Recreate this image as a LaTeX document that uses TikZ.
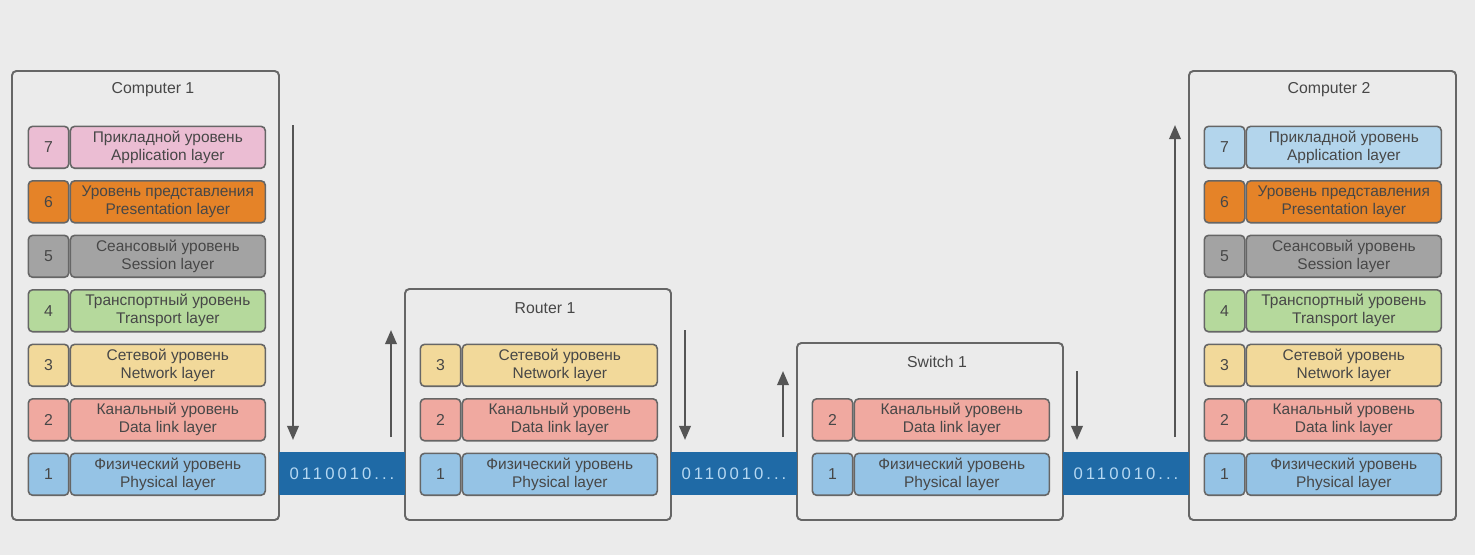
\documentclass[tikz,border=0pt]{standalone}
\usepackage{fontspec}
\setmainfont{Liberation Sans}
\usepackage{tikz}
\usetikzlibrary{arrows.meta}
\definecolor{bgray}{HTML}{EBEBEB}
\definecolor{framec}{HTML}{666666}
\definecolor{arrowc}{HTML}{555555}
\definecolor{txtc}{HTML}{474747}
\definecolor{lpink}{HTML}{EBBDD3}
\definecolor{lorange}{HTML}{E58328}
\definecolor{lgray}{HTML}{A3A3A3}
\definecolor{lgreen}{HTML}{B5D99C}
\definecolor{lyellow}{HTML}{F2D99A}
\definecolor{lred}{HTML}{F0A9A0}
\definecolor{lblue}{HTML}{95C3E5}
\definecolor{lsky}{HTML}{B3D5EC}
\definecolor{bandc}{HTML}{1F6AA6}
\definecolor{bitc}{HTML}{B5D8F2}
\tikzset{
  frame/.style={draw=framec, line width=1.1pt, rounded corners=2.5pt},
  title/.style={text=txtc, font=\fontsize{9}{10}\selectfont},
  numbox/.style={draw=framec, line width=0.9pt, rounded corners=2.5pt, text=txtc,
    minimum width=0.81cm, minimum height=0.84cm, inner sep=0pt, anchor=north west,
    font=\fontsize{9}{10}\selectfont},
  namebox/.style={draw=framec, line width=0.9pt, rounded corners=2.5pt, text=txtc,
    minimum width=3.9cm, minimum height=0.84cm, inner sep=0pt, anchor=north west,
    align=center, font=\fontsize{8.8}{10.2}\selectfont},
  bits/.style={fill=bandc, text=bitc, minimum width=2.52cm, minimum height=0.86cm,
    inner sep=0pt, font=\fontsize{9.5}{10}\selectfont\addfontfeature{LetterSpace=18}},
  flow/.style={draw=arrowc, line width=1.3pt, -{Triangle[length=8pt,width=6.5pt]}}
}
% name, x, y, number, russian, english, colour
\newcommand{\osilayer}[7]{%
  \node[numbox, fill=#7] (#1n) at (#2,#3) {#4};
  \node[namebox, fill=#7] (#1t) at (#1n.north east) {#5\\#6};
}
\begin{document}
\begin{tikzpicture}[x=0.02cm, y=-0.02cm]
\fill[bgray] (0,0) rectangle (1475,555);

% Computer 1
\draw[frame] (12,71) rectangle (279,520);
\node[title] (comp1) at (153,90) {Computer 1};
\osilayer{ca7}{27.5}{125.5}{7}{Прикладной уровень}{Application layer}{lpink}
\osilayer{ca6}{27.5}{180}{6}{Уровень представления}{Presentation layer}{lorange}
\osilayer{ca5}{27.5}{234.5}{5}{Сеансовый уровень}{Session layer}{lgray}
\osilayer{ca4}{27.5}{289}{4}{Транспортный уровень}{Transport layer}{lgreen}
\osilayer{ca3}{27.5}{343.5}{3}{Сетевой уровень}{Network layer}{lyellow}
\osilayer{ca2}{27.5}{398}{2}{Канальный уровень}{Data link layer}{lred}
\osilayer{ca1}{27.5}{452.5}{1}{Физический уровень}{Physical layer}{lblue}

% Router 1
\draw[frame] (405,289) rectangle (671,520);
\node[title] (router1) at (545,308) {Router 1};
\osilayer{ra3}{419.5}{343.5}{3}{Сетевой уровень}{Network layer}{lyellow}
\osilayer{ra2}{419.5}{398}{2}{Канальный уровень}{Data link layer}{lred}
\osilayer{ra1}{419.5}{452.5}{1}{Физический уровень}{Physical layer}{lblue}

% Switch 1
\draw[frame] (797,343) rectangle (1063,520);
\node[title] (switch1) at (937,362) {Switch 1};
\osilayer{sa2}{811.5}{398}{2}{Канальный уровень}{Data link layer}{lred}
\osilayer{sa1}{811.5}{452.5}{1}{Физический уровень}{Physical layer}{lblue}

% Computer 2
\draw[frame] (1189,71) rectangle (1456,520);
\node[title] (comp2) at (1329,90) {Computer 2};
\osilayer{cb7}{1203.5}{125.5}{7}{Прикладной уровень}{Application layer}{lsky}
\osilayer{cb6}{1203.5}{180}{6}{Уровень представления}{Presentation layer}{lorange}
\osilayer{cb5}{1203.5}{234.5}{5}{Сеансовый уровень}{Session layer}{lgray}
\osilayer{cb4}{1203.5}{289}{4}{Транспортный уровень}{Transport layer}{lgreen}
\osilayer{cb3}{1203.5}{343.5}{3}{Сетевой уровень}{Network layer}{lyellow}
\osilayer{cb2}{1203.5}{398}{2}{Канальный уровень}{Data link layer}{lred}
\osilayer{cb1}{1203.5}{452.5}{1}{Физический уровень}{Physical layer}{lblue}

% wires
\node[bits] (bits1) at (342,473.5) {0110010...};
\node[bits] (bits2) at (734,473.5) {0110010...};
\node[bits] (bits3) at (1126,473.5) {0110010...};

% data flow
\coordinate (f1s) at (293,125);  \coordinate (f1e) at (293,440);
\coordinate (f2s) at (391,437);  \coordinate (f2e) at (391,330);
\coordinate (f3s) at (685,330);  \coordinate (f3e) at (685,440);
\coordinate (f4s) at (783,437);  \coordinate (f4e) at (783,371);
\coordinate (f5s) at (1077,371); \coordinate (f5e) at (1077,440);
\coordinate (f6s) at (1175,437); \coordinate (f6e) at (1175,125);
\draw[flow] (f1s) -- (f1e);
\draw[flow] (f2s) -- (f2e);
\draw[flow] (f3s) -- (f3e);
\draw[flow] (f4s) -- (f4e);
\draw[flow] (f5s) -- (f5e);
\draw[flow] (f6s) -- (f6e);
\end{tikzpicture}
\end{document}
